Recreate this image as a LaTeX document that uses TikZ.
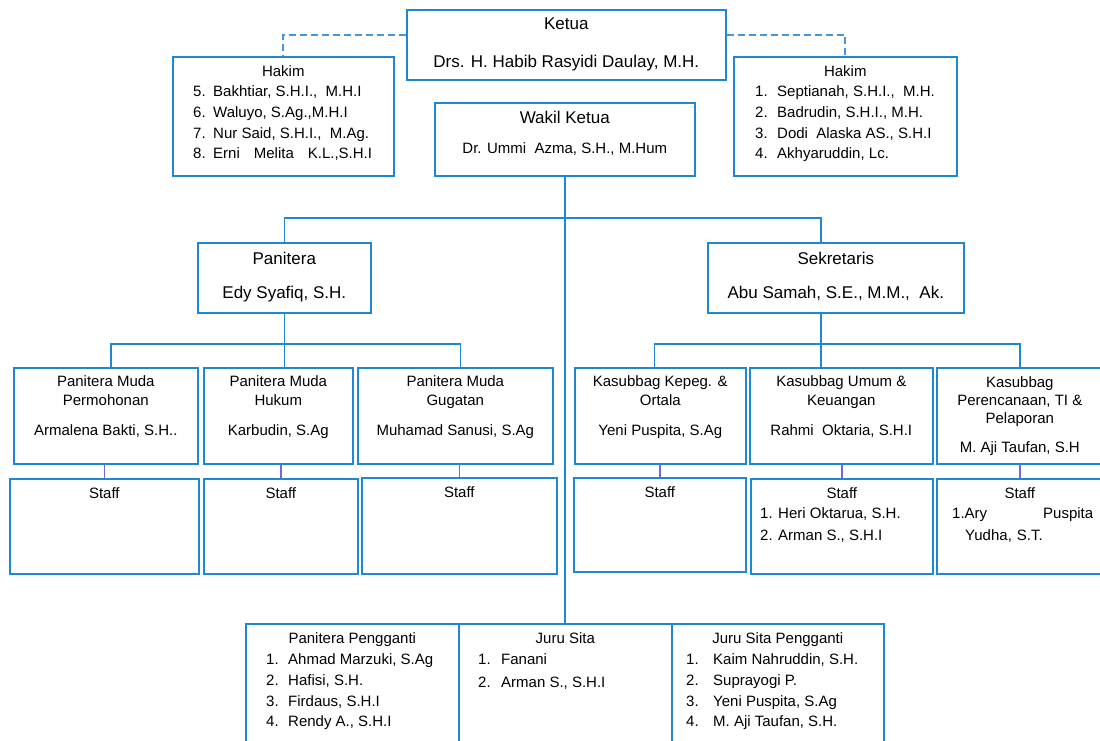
\documentclass[tikz,border=0pt]{standalone}
\usepackage{fontspec}
\setmainfont{Liberation Sans}
\usetikzlibrary{positioning}

\definecolor{boxblue}{RGB}{30,136,212}
\definecolor{dashblue}{RGB}{70,150,222}
\definecolor{staffviolet}{RGB}{112,104,226}

% number column in the name lists
\newcommand{\nomor}[3][20pt]{\makebox[#1][l]{#2}#3}

\tikzset{
  box/.style={draw=boxblue, line width=1.6pt, anchor=north west, inner sep=0pt},
  boxtitle/.style={font=\fontsize{17}{20}\selectfont, inner sep=0pt, align=center},
  boxtext/.style={font=\fontsize{15}{19}\selectfont, inner sep=0pt, align=center},
  namelist/.style={font=\fontsize{15}{20.7}\selectfont, inner sep=0pt, align=left, anchor=north west},
  link/.style={draw=boxblue, line width=1.6pt},
  stafflink/.style={draw=staffviolet, line width=1.4pt},
  dashlink/.style={draw=dashblue, line width=2pt, dash pattern=on 7pt off 4pt},
}

\begin{document}
\begin{tikzpicture}[x=1pt,y=-1pt]
\useasboundingbox (0,0) rectangle (1100,740);
\clip (0,0) rectangle (1100,740);

% Top level
\node[box, minimum width=319, minimum height=70] (ketua) at (406,9) {};
\node[boxtitle, below=8.9pt of ketua.north] {Ketua};
\node[boxtitle, below=45.5pt of ketua.north] {Drs. H. Habib Rasyidi Daulay, M.H.};

\node[box, minimum width=260, minimum height=73] (wakil) at (434,102) {};
\node[boxtitle, below=8.9pt of wakil.north] {Wakil Ketua};
\node[boxtext, below=40.6pt of wakil.north] {Dr. Ummi\ \ Azma, S.H., M.Hum};

% Hakim on both sides
\node[box, minimum width=221, minimum height=119] (hakim1) at (172,56) {};
\node[boxtext, below=9.6pt of hakim1.north] {Hakim};
\node[namelist] at ([xshift=21pt,yshift=-29.6pt]hakim1.north west) {%
  \nomor{5.}{Bakhtiar, S.H.I.,\ \ M.H.I}\\
  \nomor{6.}{Waluyo, S.Ag.,M.H.I}\\
  \nomor{7.}{Nur Said, S.H.I.,\ \ M.Ag.}\\
  \nomor{8.}{Erni\hspace{14pt}Melita\hspace{14pt}K.L.,S.H.I}};

\node[box, minimum width=223, minimum height=119] (hakim2) at (733,56) {};
\node[boxtext, below=9.6pt of hakim2.north] {Hakim};
\node[namelist] at ([xshift=22pt,yshift=-29.6pt]hakim2.north west) {%
  \nomor[22pt]{1.}{Septianah, S.H.I.,\ \ M.H.}\\
  \nomor[22pt]{2.}{Badrudin, S.H.I., M.H.}\\
  \nomor[22pt]{3.}{Dodi\ \ Alaska AS., S.H.I}\\
  \nomor[22pt]{4.}{Akhyaruddin, Lc.}};

\draw[dashlink] ([yshift=10pt]ketua.west) -| (hakim1.north);
\draw[dashlink] ([yshift=10pt]ketua.east) -| (hakim2.north);

% Panitera and Sekretaris
\node[box, minimum width=173, minimum height=70] (panitera) at (197,242) {};
\node[boxtitle, below=9.9pt of panitera.north] {Panitera};
\node[boxtitle, below=43.9pt of panitera.north] {Edy Syafiq, S.H.};

\node[box, minimum width=256, minimum height=70] (sekretaris) at (707,242) {};
\node[boxtitle, below=9.9pt of sekretaris.north] {Sekretaris};
\node[boxtitle, below=43.9pt of sekretaris.north] {Abu Samah, S.E., M.M.,\ \ Ak.};

% Panitera Muda
\node[box, minimum width=184, minimum height=96] (muda1) at (13,367) {};
\node[boxtext, below=8.6pt of muda1.north] {Panitera Muda\\Permohonan\\[11pt]Armalena Bakti, S.H..};
\node[box, minimum width=149, minimum height=96] (muda2) at (203,367) {};
\node[boxtext, below=8.6pt of muda2.north] {Panitera Muda\\Hukum\\[11pt]Karbudin, S.Ag};
\node[box, minimum width=195, minimum height=96] (muda3) at (357,367) {};
\node[boxtext, below=8.6pt of muda3.north] {Panitera Muda\\Gugatan\\[11pt]Muhamad Sanusi, S.Ag};

% Kasubbag
\node[box, minimum width=171, minimum height=96] (kasub1) at (574,367) {};
\node[boxtext, below=8.6pt of kasub1.north] {Kasubbag Kepeg. \&\\Ortala\\[11pt]Yeni Puspita, S.Ag};
\node[box, minimum width=183, minimum height=96] (kasub2) at (749,367) {};
\node[boxtext, below=8.6pt of kasub2.north] {Kasubbag Umum \&\\Keuangan\\[11pt]Rahmi\ \ Oktaria, S.H.I};
\node[box, minimum width=166, minimum height=96] (kasub3) at (936,367) {};
\node[boxtext, font=\fontsize{15}{18}\selectfont, below=9.6pt of kasub3.north]
  {Kasubbag\\Perencanaan, TI \&\\Pelaporan\\[11pt]M. Aji Taufan, S.H};

% Staff
\node[box, minimum width=189, minimum height=95] (staff1) at (9,478) {};
\node[box, minimum width=154, minimum height=95] (staff2) at (203,478) {};
\node[box, minimum width=195, minimum height=96] (staff3) at (361,477) {};
\node[box, minimum width=172, minimum height=94] (staff4) at (573,477) {};
\node[box, minimum width=182, minimum height=95] (staff5) at (750,478) {};
\node[box, minimum width=166, minimum height=95] (staff6) at (936,478) {};
\foreach \i in {1,...,6}
  \node[boxtext, below=9.6pt of staff\i.north] {Staff};
\node[namelist, font=\fontsize{15}{22}\selectfont] at ([xshift=10pt,yshift=-29.6pt]staff5.north west) {%
  \nomor[18pt]{1.}{Heri Oktarua, S.H.}\\
  \nomor[18pt]{2.}{Arman S., S.H.I}};
\node[namelist, font=\fontsize{15}{22}\selectfont, text width=141pt] at ([xshift=16pt,yshift=-29.6pt]staff6.north west) {%
  1.Ary\hfill Puspita\\
  \hspace*{13pt}Yudha, S.T.};

% Bottom row
\node[box, minimum width=213, minimum height=140] (bawah1) at (245,623) {};
\node[boxtext, below=9.6pt of bawah1.north] {Panitera Pengganti};
\node[namelist] at ([xshift=21pt,yshift=-30.6pt]bawah1.north west) {%
  \nomor[22pt]{1.}{Ahmad Marzuki, S.Ag}\\
  \nomor[22pt]{2.}{Hafisi, S.H.}\\
  \nomor[22pt]{3.}{Firdaus, S.H.I}\\
  \nomor[22pt]{4.}{Rendy A., S.H.I}};
\node[box, minimum width=213, minimum height=140] (bawah2) at (458,623) {};
\node[boxtext, below=9.6pt of bawah2.north] {Juru Sita};
\node[namelist, font=\fontsize{15}{23}\selectfont] at ([xshift=20pt,yshift=-30.6pt]bawah2.north west) {%
  \nomor[23pt]{1.}{Fanani}\\
  \nomor[23pt]{2.}{Arman S., S.H.I}};
\node[box, minimum width=212, minimum height=140] (bawah3) at (671,623) {};
\node[boxtext, below=9.6pt of bawah3.north] {Juru Sita Pengganti};
\node[namelist] at ([xshift=15pt,yshift=-30.6pt]bawah3.north west) {%
  \nomor[27pt]{1.}{Kaim Nahruddin, S.H.}\\
  \nomor[27pt]{2.}{Suprayogi P.}\\
  \nomor[27pt]{3.}{Yeni Puspita, S.Ag}\\
  \nomor[27pt]{4.}{M. Aji Taufan, S.H.}};

% Main line down from Wakil Ketua
\coordinate (split1) at (564,218);
\draw[link] (wakil.south) -- (wakil.south |- bawah2.north);
\draw[link] (panitera.north) |- (split1) -| ([xshift=-15pt]sekretaris.north);

% Branches under Panitera and Sekretaris
\draw[link] (panitera.south) -- (panitera.south |- muda2.north);
\draw[link] ([xshift=5pt]muda1.north) -- ++(0,-23) -| ([xshift=5pt]muda3.north);
\draw[link] ([xshift=-15pt]sekretaris.south) -- ([xshift=-15pt]sekretaris.south |- kasub2.north);
\draw[link] ([xshift=-6pt]kasub1.north) -- ++(0,-23) -| (kasub3.north);

% Staff links
\foreach \up/\down in {muda1/staff1, muda2/staff2, muda3/staff3, kasub1/staff4, kasub2/staff5, kasub3/staff6}
  \draw[stafflink] (\down.north) -- (\down.north |- \up.south);
\end{tikzpicture}
\end{document}
